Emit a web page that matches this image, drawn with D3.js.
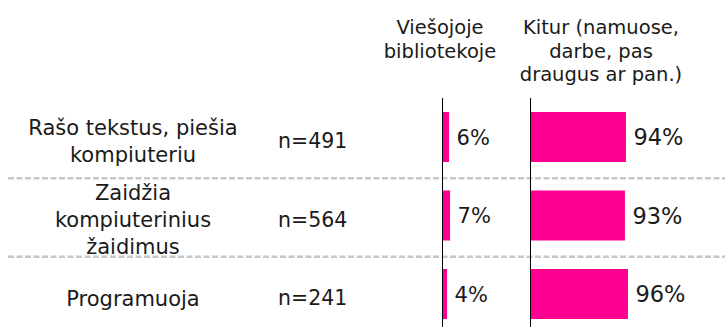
<!DOCTYPE html>
<html>
<head>
<meta charset="utf-8">
<script src="https://cdn.jsdelivr.net/npm/d3@7"></script>
<style>
  html, body { margin: 0; padding: 0; background: #fff; }
  svg { display: block; font-family: "DejaVu Sans", Verdana, sans-serif; }
</style>
</head>
<body>
<svg id="chart" width="725" height="327"></svg>
<script>
// Activities (label lines), sample sizes and shares by place of computer use
const categories = ["Rašo tekstus, piešia kompiuteriu", "Zaidžia kompiuterinius žaidimus", "Programuoja"];
const categoryLines = [["Rašo tekstus, piešia", "kompiuteriu"], ["Zaidžia", "kompiuterinius", "žaidimus"], ["Programuoja"]];
const sampleSizes = ["n=491", "n=564", "n=241"];
const libraryShare = [6, 7, 4];
const elsewhereShare = [94, 93, 96];
const columnHeaders = [["Viešojoje", "bibliotekoje"], ["Kitur (namuose,", "darbe, pas", "draugus ar pan.)"]];

const svg = d3.select("#chart");
const ink = "#1a1a1a";
const barColor = "#ff0090";

const y = d3.scaleBand()
  .domain(categories)
  .range([97.75, 333.25])
  .paddingInner(0.363)
  .paddingOuter(0.1815);

const xLib = d3.scaleLinear().domain([0, 100]).range([443, 544]);
const xElse = d3.scaleLinear().domain([0, 100]).range([531, 632]);

// dashed separators between rows
const seps = categories.slice(1).map(c => y(c) - y.step() * y.paddingInner() / 2 + 2);
svg.selectAll("line.sep").data(seps).join("line")
  .attr("class", "sep")
  .attr("x1", 8).attr("x2", 725)
  .attr("y1", d => d).attr("y2", d => d)
  .attr("stroke", "#c8c8c8")
  .attr("stroke-width", 2.5)
  .attr("stroke-dasharray", "6,2.5");

// column baselines
[xLib(0) - 0.5, xElse(0) - 0.5].forEach(x => {
  svg.append("line")
    .attr("x1", x).attr("x2", x)
    .attr("y1", 98).attr("y2", 327)
    .attr("stroke", "#000").attr("stroke-width", 1);
});

// column headers
const headerX = [440, 601];
columnHeaders.forEach((lines, i) => {
  const t = svg.append("text")
    .attr("text-anchor", "middle")
    .attr("font-size", 19.5)
    .attr("fill", ink);
  lines.forEach((ln, j) => {
    t.append("tspan").attr("x", headerX[i]).attr("y", 34 + j * 23.5).text(ln);
  });
});

// category labels
categories.forEach((c, i) => {
  const lines = categoryLines[i];
  const cy = y(c) + y.bandwidth() / 2 + 4;
  const t = svg.append("text")
    .attr("text-anchor", "middle")
    .attr("font-size", 21)
    .attr("fill", ink);
  lines.forEach((ln, j) => {
    t.append("tspan")
      .attr("x", 133)
      .attr("y", cy + (j - (lines.length - 1) / 2) * 27 + 7.6)
      .text(ln);
  });
  svg.append("text")
    .attr("x", 278)
    .attr("y", y(c) + y.bandwidth() / 2 + 4 + 7.3)
    .attr("font-size", 20.5)
    .attr("fill", ink)
    .text(sampleSizes[i]);
});

// bars
function drawBars(values, x, size, cls) {
  svg.selectAll("rect." + cls).data(values).join("rect")
    .attr("class", cls)
    .attr("x", x(0))
    .attr("y", (d, i) => y(categories[i]))
    .attr("width", d => x(d) - x(0))
    .attr("height", y.bandwidth())
    .attr("fill", barColor);
  svg.selectAll("text." + cls).data(values).join("text")
    .attr("class", cls)
    .attr("x", d => x(d) + 7.5)
    .attr("y", (d, i) => y(categories[i]) + y.bandwidth() / 2 + size * 0.36)
    .attr("font-size", size)
    .attr("fill", ink)
    .text(d => d + "%");
}
drawBars(libraryShare, xLib, 21, "lib");
drawBars(elsewhereShare, xElse, 22.5, "else");
</script>
</body>
</html>
